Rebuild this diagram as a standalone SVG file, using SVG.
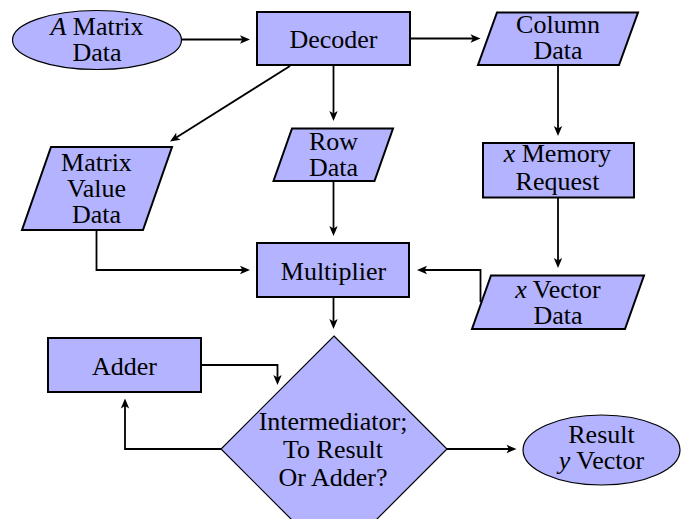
<svg xmlns="http://www.w3.org/2000/svg" width="694" height="519" viewBox="0 0 694 519">
  <style>
    .box { fill: #b3b3ff; stroke: #000; stroke-width: 2; stroke-linejoin: miter; }
    .thin { fill: #b3b3ff; stroke: #000; stroke-width: 1.2; }
    text { font-family: 'Liberation Serif', 'Times New Roman', serif; font-size: 26px; fill: #000; text-anchor: middle; }
    .math { font-style: italic; }
    .wire { fill: none; stroke: #000; stroke-width: 1.8; marker-end: url(#tip); }
  </style>
  <defs>
    <!-- stealth-style arrowhead; its point sits 7px beyond the end of the path -->
    <marker id="tip" markerUnits="userSpaceOnUse" markerWidth="12" markerHeight="10" viewBox="-4 -5 12 10" refX="0" refY="0" orient="auto">
      <path d="M7,0 L-3,-4.2 L-0.6,0 L-3,4.2 Z" fill="#000"/>
    </marker>
  </defs>
  <rect width="694" height="519" fill="#fff"/>

  <g id="connectors">
    <path class="wire" d="M181.5,39.5 H243"/>
    <path class="wire" d="M410,38.5 H473.5"/>
    <path class="wire" d="M333.5,65 V114"/>
    <path class="wire" d="M290,66 L175.9,137.8"/>
    <path class="wire" d="M558,65 V129"/>
    <path class="wire" d="M558,197.5 V261"/>
    <path class="wire" d="M333.5,181 V229"/>
    <path class="wire" d="M96.5,230 V270 H243"/>
    <path class="wire" d="M480.5,302 V270 H424"/>
    <path class="wire" d="M333.5,297 V322"/>
    <path class="wire" d="M201,365 H277.5 V378"/>
    <path class="wire" d="M221,449 H125 V405.5"/>
    <path class="wire" d="M447,449 H509.5"/>
  </g>

  <g id="matrix-input">
    <ellipse class="thin" cx="97" cy="40" rx="84.5" ry="29.5"/>
    <text x="97" y="34.5"><tspan class="math">A</tspan> Matrix</text>
    <text x="97" y="60.5">Data</text>
  </g>

  <g id="decoder">
    <rect class="box" x="257" y="12" width="153" height="53"/>
    <text x="333.5" y="48">Decoder</text>
  </g>

  <g id="column-data">
    <polygon class="box" points="497,12.5 638,12.5 619,65 478,65"/>
    <text x="558" y="33">Column</text>
    <text x="558" y="59">Data</text>
  </g>

  <g id="matrix-value-data">
    <polygon class="box" points="51,147 172,147 143,230 22,230"/>
    <text x="96.5" y="170.5">Matrix</text>
    <text x="96.5" y="196.5">Value</text>
    <text x="96.5" y="222.5">Data</text>
  </g>

  <g id="row-data">
    <polygon class="box" points="292,128.5 393,128.5 374.5,181 273.5,181"/>
    <text x="333.5" y="150">Row</text>
    <text x="333.5" y="176">Data</text>
  </g>

  <g id="memory-request">
    <rect class="box" x="483" y="143" width="151" height="54.5"/>
    <text x="557.5" y="161.5"><tspan class="math">x</tspan> Memory</text>
    <text x="557.5" y="189.5">Request</text>
  </g>

  <g id="multiplier">
    <rect class="box" x="257" y="243" width="152" height="54"/>
    <text x="333.5" y="279.5">Multiplier</text>
  </g>

  <g id="vector-data">
    <polygon class="box" points="491,275.5 644,275.5 625,329 472,329"/>
    <text x="558" y="297.5"><tspan class="math">x</tspan> Vector</text>
    <text x="558" y="323.5">Data</text>
  </g>

  <g id="adder">
    <rect class="box" x="48" y="338" width="153" height="54"/>
    <text x="124.5" y="374.5">Adder</text>
  </g>

  <g id="intermediator">
    <polygon class="thin" points="334,336 447,449 334,562 221,449"/>
    <text x="333" y="429.5">Intermediator;</text>
    <text x="333" y="458">To Result</text>
    <text x="333" y="485.5">Or Adder?</text>
  </g>

  <g id="result">
    <ellipse class="thin" cx="601.5" cy="450" rx="78.5" ry="35"/>
    <text x="601.5" y="443">Result</text>
    <text x="601.5" y="469"><tspan class="math">y</tspan> Vector</text>
  </g>
</svg>
